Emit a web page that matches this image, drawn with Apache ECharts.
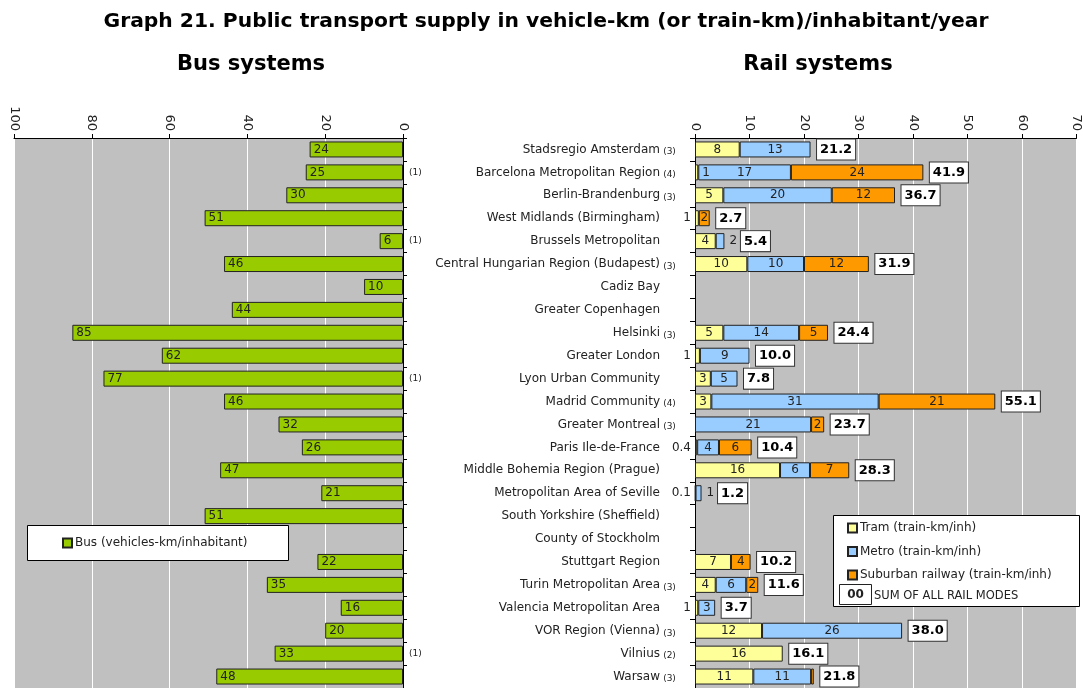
<!DOCTYPE html>
<html>
<head>
<meta charset="utf-8">
<script src="https://cdn.jsdelivr.net/npm/echarts@6/dist/echarts.min.js"></script>
<style>
  html, body { margin: 0; padding: 0; background: #fff; }
  #chart { width: 1083px; height: 688px; }
</style>
</head>
<body>
<div id="chart"></div>
<script>
const categories = [
    "Stadsregio Amsterdam", "Barcelona Metropolitan Region", "Berlin-Brandenburg",
    "West Midlands (Birmingham)", "Brussels Metropolitan", "Central Hungarian Region (Budapest)",
    "Cadiz Bay", "Greater Copenhagen", "Helsinki", "Greater London", "Lyon Urban Community",
    "Madrid Community", "Greater Montreal", "Paris Ile-de-France", "Middle Bohemia Region (Prague)",
    "Metropolitan Area of Seville", "South Yorkshire (Sheffield)", "County of Stockholm",
    "Stuttgart Region", "Turin Metropolitan Area", "Valencia Metropolitan Area",
    "VOR Region (Vienna)", "Vilnius", "Warsaw"
];
const railNotes = ["(3)", "(4)", "(3)", "", "", "(3)", "", "", "(3)", "", "", "(4)",
    "(3)", "", "", "", "", "", "", "(3)", "", "(3)", "(2)", "(3)"];
const busNotes = ["", "(1)", "", "", "(1)", "", "", "", "", "", "(1)", "",
    "", "", "", "", "", "", "", "", "", "", "(1)", ""];

const busValues = [24, 25, 30, 51, 6, 46, 10, 44, 85, 62, 77, 46, 32, 26, 47, 21, 51, null, 22, 35, 16, 20, 33, 48];
const tram = [8.2, 0.6, 5.2, 0.7, 3.8, 9.6, null, null, 5.2, 0.9, 2.9, 3.0, null, 0.4, 15.6, 0.1, null, null, 6.6, 3.8, 0.6, 12.3, 16.1, 10.7];
const metro = [13.0, 17.0, 19.9, null, 1.6, 10.4, null, null, 13.9, 9.1, 4.9, 30.7, 21.3, 4.0, 5.5, 1.1, null, null, null, 5.6, 3.1, 25.7, null, 10.6];
const suburban = [null, 24.3, 11.6, 2.0, null, 11.9, null, null, 5.3, null, null, 21.4, 2.4, 6.0, 7.2, null, null, null, 3.6, 2.2, null, null, null, 0.5];
const railTotals = [21.2, 41.9, 36.7, 2.7, 5.4, 31.9, null, null, 24.4, 10.0, 7.8, 55.1, 23.7, 10.4, 28.3, 1.2, null, null, 10.2, 11.6, 3.7, 38.0, 16.1, 21.8];

const busTicks = [0, 20, 40, 60, 80, 100];
const railTicks = [0, 10, 20, 30, 40, 50, 60, 70];

const FONT = "DejaVu Sans";
const TXT = "#222";

function fmt(v) {
    return v < 0.5 ? v.toFixed(1) : String(Math.round(v));
}

// small metro segments get their label outside, to the right of the bar
function metroOutside(i) {
    return metro[i] != null && metro[i] < 2 && suburban[i] == null;
}

// per-item label placement for tiny segments
function railItem(v, kind, i) {
    if (v == null) return "-";
    const item = { value: v };
    if (kind === "tram" && v < 1) {
        item.label = { position: railNotes[i] ? "right" : "left", distance: 4 };
    } else if (kind === "metro" && metroOutside(i)) {
        item.label = { position: "right", distance: 5 };
    } else if (kind === "sub" && v < 1) {
        item.label = { show: false };
    }
    return item;
}

const barLabel = {
    show: true,
    fontFamily: FONT,
    fontSize: 12,
    color: TXT,
    formatter: (p) => fmt(p.value)
};

const chart = echarts.init(document.getElementById("chart"));

const axisX = {
    type: "value",
    position: "top",
    interval: 10,
    axisLine: { show: true, lineStyle: { color: "#000", width: 1 } },
    axisTick: { show: true, length: 4, lineStyle: { color: "#000" } },
    splitLine: { show: true, lineStyle: { color: "#fff", width: 1 } },
    axisLabel: { rotate: 90, margin: 7, fontFamily: FONT, fontSize: 13, color: TXT }
};

const totalsData = [];
railTotals.forEach((t, i) => {
    if (t == null) return;
    const d = { value: [t, i] };
    if (metroOutside(i)) d.label = { distance: 16 };
    totalsData.push(d);
});

chart.setOption({
    animation: false,
    backgroundColor: "#fff",
    title: [
        {
            text: "Graph 21. Public transport supply in vehicle-km (or train-km)/inhabitant/year",
            left: 541, top: 7, textAlign: "center",
            textStyle: { fontFamily: FONT, fontSize: 20.3, fontWeight: "bold", color: "#000" }
        },
        {
            text: "Bus systems", left: 246, top: 49, textAlign: "center",
            textStyle: { fontFamily: FONT, fontSize: 21, fontWeight: "bold", color: "#000" }
        },
        {
            text: "Rail systems", left: 813, top: 49, textAlign: "center",
            textStyle: { fontFamily: FONT, fontSize: 21, fontWeight: "bold", color: "#000" }
        }
    ],
    grid: [
        { left: 14, top: 138, width: 389, height: 551, show: true, backgroundColor: "#c0c0c0", borderWidth: 0 },
        { left: 695, top: 138, width: 383, height: 551, show: true, backgroundColor: "#c0c0c0", borderWidth: 0 }
    ],
    xAxis: [
        Object.assign({}, axisX, {
            gridIndex: 0, min: busTicks[0], max: busTicks[busTicks.length - 1],
            interval: 20, inverse: true
        }),
        Object.assign({}, axisX, {
            gridIndex: 1, min: railTicks[0], max: railTicks[railTicks.length - 1], interval: 10
        })
    ],
    yAxis: [
        {
            type: "category", gridIndex: 0, data: categories, inverse: true, position: "right",
            axisLine: { show: true, lineStyle: { color: "#000" } },
            axisTick: { show: true, length: 4, lineStyle: { color: "#000" } },
            splitLine: { show: false },
            axisLabel: {
                margin: 6, fontFamily: FONT, fontSize: 9, color: TXT,
                formatter: (v, i) => busNotes[i]
            }
        },
        {
            type: "category", gridIndex: 1, data: categories, inverse: true, position: "left",
            axisLine: { show: true, lineStyle: { color: "#000" } },
            axisTick: { show: true, length: 5, lineStyle: { color: "#000" } },
            splitLine: { show: false },
            axisLabel: {
                margin: 18, color: TXT,
                formatter: (v, i) => "{n|" + v + "}{s|" + (railNotes[i] || " ") + "}",
                rich: {
                    n: { fontFamily: FONT, fontSize: 12, color: TXT },
                    s: { fontFamily: FONT, fontSize: 9, color: TXT, width: 15, align: "left", padding: [5, 0, 0, 2] }
                }
            }
        }
    ],
    legend: [
        {
            data: ["Bus (vehicles-km/inhabitant)"],
            left: 62, top: 537, padding: 0, z: 60,
            itemWidth: 9, itemHeight: 9, icon: "rect",
            textStyle: { fontFamily: FONT, fontSize: 12, color: TXT, padding: [0, 0, 0, -2] }
        },
        {
            data: ["Tram (train-km/inh)", "Metro (train-km/inh)", "Suburban railway (train-km/inh)"],
            orient: "vertical", left: 847, top: 521, padding: 0, z: 60,
            itemGap: 9.5, itemWidth: 9, itemHeight: 9, icon: "rect",
            textStyle: { fontFamily: FONT, fontSize: 12, color: TXT, lineHeight: 14, padding: [0, 0, 0, -2] }
        }
    ],
    graphic: [
        {
            type: "rect", z: 50,
            shape: { x: 27.5, y: 525.5, width: 261, height: 35 },
            style: { fill: "#fff", stroke: "#000", lineWidth: 1 }
        },
        {
            type: "rect", z: 50,
            shape: { x: 833.5, y: 515.5, width: 246, height: 91 },
            style: { fill: "#fff", stroke: "#000", lineWidth: 1 }
        },
        {
            type: "rect", z: 60,
            shape: { x: 839.5, y: 584.5, width: 32, height: 20 },
            style: { fill: "#fff", stroke: "#222", lineWidth: 1 }
        },
        {
            type: "text", z: 61, x: 855.5, y: 595,
            style: { text: "00", fontFamily: FONT, fontSize: 12, fontWeight: "bold", fill: TXT, align: "center", verticalAlign: "middle" }
        },
        {
            type: "text", z: 61, x: 874, y: 596,
            style: { text: "SUM OF ALL RAIL MODES", fontFamily: FONT, fontSize: 11.5, fill: TXT, align: "left", verticalAlign: "middle" }
        }
    ],
    series: [
        {
            name: "Bus (vehicles-km/inhabitant)", type: "bar",
            xAxisIndex: 0, yAxisIndex: 0, barWidth: 16,
            data: busValues.map((v) => (v == null ? "-" : v)),
            itemStyle: { color: "#99cc00", borderColor: "#222", borderWidth: 1 },
            label: Object.assign({}, barLabel, { position: "insideLeft", distance: 4, formatter: (p) => String(p.value) })
        },
        {
            name: "Tram (train-km/inh)", type: "bar", stack: "rail",
            xAxisIndex: 1, yAxisIndex: 1, barWidth: 16,
            data: tram.map((v, i) => railItem(v, "tram", i)),
            itemStyle: { color: "#ffff99", borderColor: "#222", borderWidth: 1 },
            label: barLabel
        },
        {
            name: "Metro (train-km/inh)", type: "bar", stack: "rail",
            xAxisIndex: 1, yAxisIndex: 1, barWidth: 16,
            data: metro.map((v, i) => railItem(v, "metro", i)),
            itemStyle: { color: "#99ccff", borderColor: "#222", borderWidth: 1 },
            label: barLabel
        },
        {
            name: "Suburban railway (train-km/inh)", type: "bar", stack: "rail",
            xAxisIndex: 1, yAxisIndex: 1, barWidth: 16,
            data: suburban.map((v, i) => railItem(v, "sub", i)),
            itemStyle: { color: "#ff9900", borderColor: "#222", borderWidth: 1 },
            label: barLabel
        },
        {
            name: "SUM OF ALL RAIL MODES", type: "scatter",
            xAxisIndex: 1, yAxisIndex: 1, symbolSize: 1, z: 5,
            itemStyle: { color: "rgba(0,0,0,0)", opacity: 1 },
            data: totalsData,
            label: {
                show: true, position: "right", distance: 6,
                fontFamily: FONT, fontSize: 13, fontWeight: "bold", color: "#000",
                backgroundColor: "#fff", borderColor: "#333", borderWidth: 1,
                padding: [4, 3, 3, 3],
                formatter: (p) => p.value[0].toFixed(1)
            }
        }
    ]
});
</script>
</body>
</html>
